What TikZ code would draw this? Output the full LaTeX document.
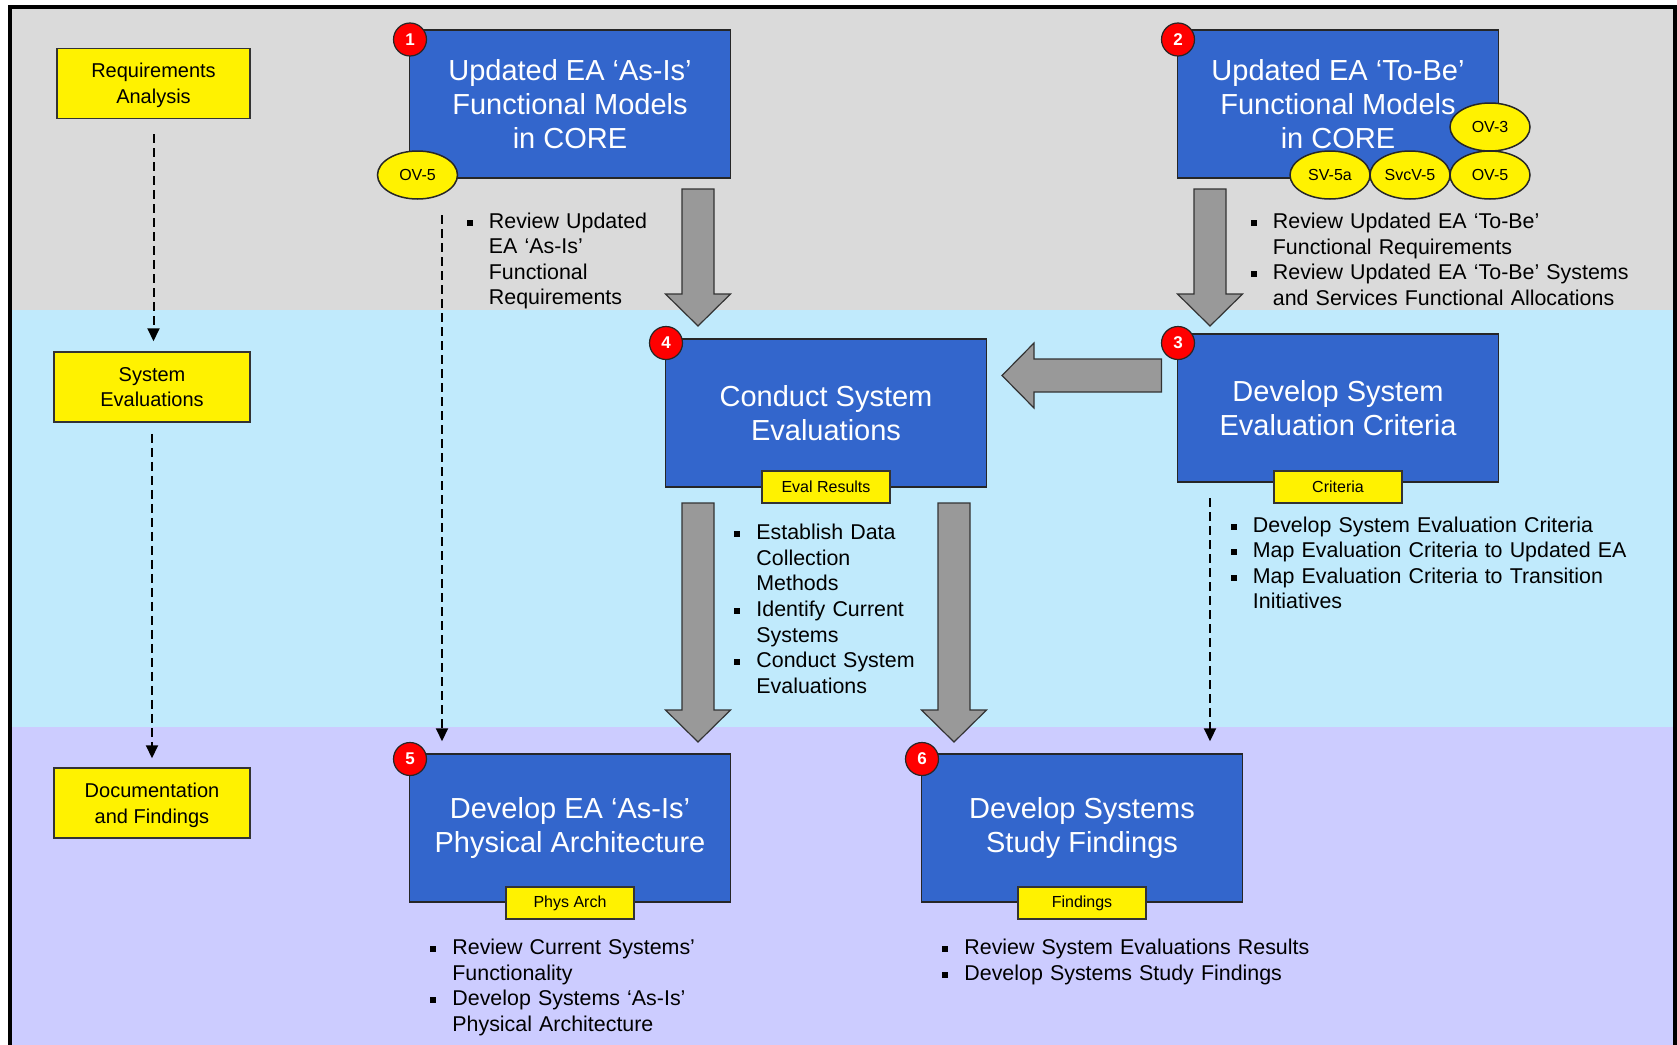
\documentclass[tikz,border=0pt]{standalone}
\usepackage{fontspec}
\setmainfont{Liberation Sans}
\usetikzlibrary{arrows.meta,shapes.geometric}

\definecolor{bandgray}{RGB}{218,218,218}
\definecolor{bandblue}{RGB}{192,234,252}
\definecolor{bandlilac}{RGB}{204,204,255}
\definecolor{stepblue}{RGB}{51,102,204}
\definecolor{arrowgray}{RGB}{153,153,153}

\newcommand{\bul}{\par\hangindent=22pt\hangafter=1\noindent\makebox[22pt][l]{\rule[2.5pt]{6pt}{6pt}}\strut}

\tikzset{
  phase/.style={draw=black!80, fill=yellow, line width=1.5pt, minimum width=196pt,
    minimum height=70pt, align=center, text depth=0pt, font=\fontsize{20}{25.7}\selectfont},
  task/.style={draw=black!85, fill=stepblue, line width=1.5pt, minimum width=321pt,
    minimum height=148pt, align=center, text=white, font=\fontsize{29}{34.3}\selectfont},
  tag/.style={draw=black!80, fill=yellow, line width=1.5pt, minimum width=128pt,
    minimum height=32pt, inner sep=0pt, font=\fontsize{16}{18}\selectfont},
  view/.style={ellipse, draw=black!85, fill=yellow, line width=1.5pt, minimum width=80pt,
    minimum height=48pt, inner sep=0pt, font=\fontsize{16}{18}\selectfont},
  badge/.style={circle, draw=black!85, fill=red, line width=1.2pt, minimum size=33pt,
    inner sep=0pt, text=white, font=\fontsize{17}{18}\bfseries},
  notes/.style={anchor=north west, inner sep=0pt, text width=420pt, align=left,
    font=\fontsize{21.4}{25.6}\selectfont},
  blockarrow/.style={draw=black!80, fill=arrowgray, line width=1.2pt},
  dasharrow/.style={draw=black, line width=2pt, dash pattern=on 9pt off 5pt,
    -{Triangle[length=13pt,width=12pt]}}
}

\begin{document}
\begin{tikzpicture}[x=1pt,y=-1pt]
\useasboundingbox (0,0) rectangle (1677,1044);
\clip (0,0) rectangle (1677,1044);

% swim lanes
\fill[bandgray] (9.5,7) rectangle (1675,310);
\fill[bandblue] (9.5,310) rectangle (1675,727);
\fill[bandlilac] (9.5,727) rectangle (1675,1050);
\draw[line width=4pt] (9.5,1050) -- (9.5,7) -- (1675,7) -- (1675,1050);

% phases
\node[phase, minimum width=193pt] (ra) at (153.5,83.5) {Requirements\\Analysis};
\node[phase] (se) at (152,387) {System\\Evaluations};
\node[phase] (df) at (152,803) {Documentation\\and Findings};

% steps
\node[task] (asis) at (570,104) {Updated EA ‘As-Is’\\Functional Models\\in CORE};
\node[task] (tobe) at (1338,104) {Updated EA ‘To-Be’\\Functional Models\\in CORE};
\node[task] (criteria) at (1338,408) {Develop System\\Evaluation Criteria};
\node[task] (evals) at (826,413) {Conduct System\\Evaluations};
\node[task] (physarch) at (570,828) {Develop EA ‘As-Is’\\Physical Architecture};
\node[task] (study) at (1082,828) {Develop Systems\\Study Findings};

% flow between steps
\foreach \x/\ya/\yb in {698/189/326, 1210/189/326, 698/503/742, 954/503/742}
  \draw[blockarrow] (\x-16,\ya) -- (\x+16,\ya) -- (\x+16,\yb-32) -- (\x+32.5,\yb-32)
    -- (\x,\yb) -- (\x-32.5,\yb-32) -- (\x-16,\yb-32) -- cycle;
\draw[blockarrow] (1161.5,359) -- (1034,359) -- (1034,343) -- (1002,375.5)
  -- (1034,408) -- (1034,392) -- (1161.5,392) -- cycle;

\draw[dasharrow, shorten <=15pt, shorten >=10pt] (ra.south) -- (ra.south |- se.north);
\draw[dasharrow, shorten <=11pt, shorten >=9pt] (se.south) -- (se.south |- df.north);
\coordinate (ovdrop) at (442,199);
\draw[dasharrow, shorten <=16pt, shorten >=12pt] (ovdrop) -- (ovdrop |- physarch.north);
\coordinate (critdrop) at (1210,482);
\draw[dasharrow, shorten <=16pt, shorten >=12pt] (critdrop) -- (critdrop |- study.north);

% products
\node[view] (ov5a) at (417.5,175) {OV-5};
\node[view] (ov3) at (1490,127) {OV-3};
\foreach \x/\t/\n in {1330/SV-5a/sv5a, 1410/SvcV-5/svcv5, 1490/OV-5/ov5b}
  \node[view] (\n) at (\x,175) {\t};

\node[tag] (evaltag) at (826,487) {Eval Results};
\node[tag] (crittag) at (1338,487) {Criteria};
\node[tag] (phystag) at (570,903) {Phys Arch};
\node[tag] (findtag) at (1082,903) {Findings};

\foreach \n/\x/\y in {1/410/39.5, 2/1178/39.5, 3/1178/343, 4/666/343, 5/410/759, 6/922/759}
  \node[badge] (b\n) at (\x,\y) {\n};

% activities
\node[notes] (n1) at (466.7,202.3) {\bul Review Updated\newline EA ‘As-Is’\newline Functional\newline Requirements\par};
\node[notes] (n2) at (1250.7,202.8) {\bul Review Updated EA ‘To-Be’\newline Functional Requirements
  \bul Review Updated EA ‘To-Be’ Systems\newline and Services Functional Allocations\par};
\node[notes] (n3) at (1230.7,506.3) {\bul Develop System Evaluation Criteria
  \bul Map Evaluation Criteria to Updated EA
  \bul Map Evaluation Criteria to Transition\newline Initiatives\par};
\node[notes] (n4) at (734.2,513.8) {\bul Establish Data\newline Collection\newline Methods
  \bul Identify Current\newline Systems \bul Conduct System\newline Evaluations\par};
\node[notes] (n5) at (430.2,928.8) {\bul Review Current Systems’\newline Functionality
  \bul Develop Systems ‘As-Is’\newline Physical Architecture\par};
\node[notes] (n6) at (942.2,928.8) {\bul Review System Evaluations Results
  \bul Develop Systems Study Findings\par};
\end{tikzpicture}
\end{document}
